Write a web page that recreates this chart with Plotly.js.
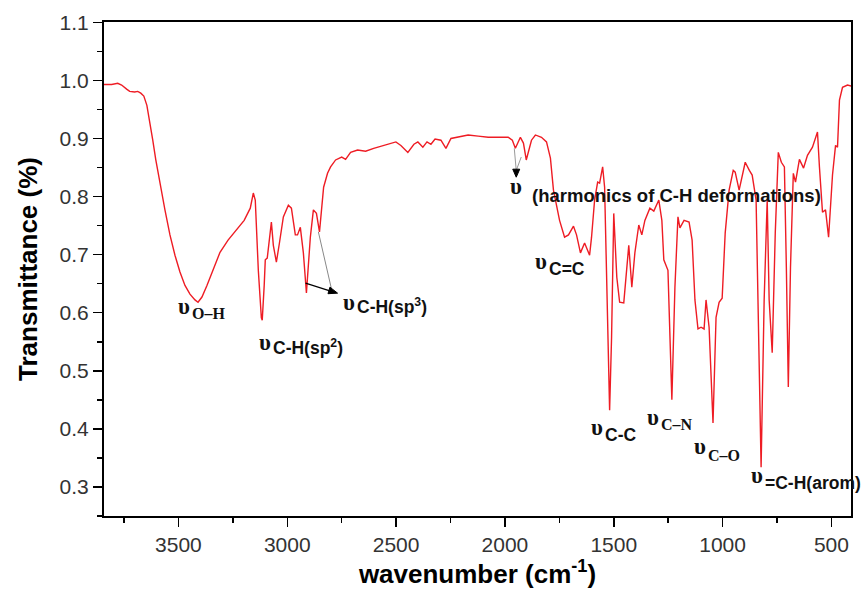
<!DOCTYPE html>
<html>
<head>
<meta charset="utf-8">
<script src="https://cdn.plot.ly/plotly-3.0.1.min.js"></script>
<style>html,body{margin:0;padding:0;background:#fff;}#chart{width:864px;height:596px;}</style>
</head>
<body>
<div id="chart"></div>
<script>
// FTIR spectrum
const wavenumber = [
3842,3807,3779,3761,3738,3724,3701,3687,3673,3659,3645,3632,3618,3604,3585,3562,3539,3516,3493,3470,
3447,3424,3410,3392,3369,3341,3309,3272,3235,3198,3170,3156,3147,3133,3119,3115,3106,3101,3092,3073,
3064,3050,3036,3018,2995,2981,2963,2953,2940,2926,2912,2894,2880,2866,2852,2833,2815,2801,2778,2750,
2732,2709,2677,2640,2603,2561,2538,2501,2478,2446,2418,2400,2377,2358,2340,2321,2294,2271,2248,2215,
2169,2123,2077,2031,1985,1966,1952,1929,1915,1902,1878,1860,1832,1809,1791,1777,1749,1726,1708,1685,
1671,1653,1634,1611,1602,1588,1574,1565,1551,1542,1533,1519,1510,1500,1486,1473,1454,1431,1417,1403,
1385,1371,1357,1334,1316,1293,1279,1270,1251,1233,1219,1205,1196,1177,1154,1140,1127,1113,1099,1085,
1076,1062,1044,1030,1016,1002,988,970,951,942,924,896,877,864,846,823,809,795,786,772,
758,744,730,716,707,698,688,675,665,647,628,610,587,564,555,541,527,513,495,481,
472,463,449,426,405];
const transmittance = [
0.993,0.993,0.995,0.992,0.985,0.981,0.980,0.981,0.978,0.973,0.957,0.931,0.897,0.863,0.823,0.777,0.734,0.699,0.670,0.647,
0.632,0.622,0.618,0.627,0.647,0.673,0.704,0.725,0.742,0.759,0.780,0.806,0.794,0.673,0.591,0.587,0.647,0.691,0.694,0.756,
0.716,0.687,0.720,0.765,0.785,0.780,0.734,0.734,0.747,0.703,0.634,0.730,0.777,0.771,0.739,0.816,0.840,0.851,0.863,0.868,
0.864,0.876,0.880,0.878,0.883,0.888,0.890,0.894,0.888,0.876,0.890,0.894,0.885,0.894,0.890,0.899,0.897,0.883,0.900,0.902,
0.906,0.904,0.902,0.902,0.902,0.897,0.883,0.902,0.892,0.863,0.897,0.906,0.902,0.894,0.866,0.811,0.759,0.730,0.734,0.749,
0.734,0.703,0.720,0.699,0.730,0.794,0.825,0.823,0.851,0.816,0.673,0.432,0.558,0.771,0.661,0.618,0.617,0.716,0.644,0.703,
0.751,0.734,0.759,0.780,0.775,0.794,0.759,0.691,0.673,0.450,0.644,0.765,0.746,0.759,0.756,0.725,0.622,0.572,0.575,0.572,
0.622,0.575,0.410,0.592,0.618,0.625,0.737,0.811,0.845,0.842,0.811,0.859,0.845,0.837,0.794,0.334,0.622,0.794,0.622,0.531,
0.737,0.876,0.859,0.851,0.678,0.472,0.678,0.840,0.825,0.864,0.849,0.871,0.885,0.911,0.851,0.773,0.777,0.730,0.837,0.888,
0.885,0.966,0.988,0.992,0.990];

// Band labels: subscript text, font kind
const bandLabels = ['O–H', 'C-H(sp<sup>2</sup>)', 'C-H(sp<sup>3</sup>)', '(harmonics of C-H deformations)',
  'C=C', 'C-C', 'C–N', 'C–O', '=C-H(arom)'];
const bandSerif = [true, false, false, false, false, false, true, true, false];
// anchor of each upsilon and of its subscript (wavenumber, transmittance)
const upsY = [0.610, 0.549, 0.618, 0.818, 0.689, 0.403, 0.420, 0.369, 0.319];
const subX = [3442, 3069, 2686, 1878, 1800, 1546, 1288, 1071, 808];
const subY = [0.598, 0.541, 0.611, 0.802, 0.675, 0.389, 0.407, 0.355, 0.307];
const upsGapX = [0, 0, 0, 40, 0, 0, 0, 0, 0];

const xTickVals = [3500, 3000, 2500, 2000, 1500, 1000, 500];

const serif = 'Liberation Serif, Times New Roman, serif';
const sans = 'Liberation Sans, Arial, sans-serif';

const annotations = [];
for (let i = 0; i < bandLabels.length; i++) {
  annotations.push({x: subX[i] + upsGapX[i], y: upsY[i], xref: 'x', yref: 'y', text: '<b>υ</b>', showarrow: false,
    xanchor: 'right', yanchor: 'middle', borderpad: 0, font: {family: serif, size: 23, color: '#111'}});
  const isHarm = i === 3;
  annotations.push({x: subX[i], y: subY[i], xref: 'x', yref: 'y', text: '<b>' + bandLabels[i] + '</b>', showarrow: false,
    xanchor: 'left', yanchor: 'middle', borderpad: 0,
    font: {family: bandSerif[i] ? serif : sans, size: bandSerif[i] ? 16 : (isHarm ? 18.5 : 17.5), color: '#111'}});
}

const shapes = [
  // grey guide lines
  {type: 'line', xref: 'x', yref: 'y', x0: 2857, y0: 0.739, x1: 2797, y1: 0.641, line: {color: '#888', width: 1}},
  {type: 'line', xref: 'x', yref: 'y', x0: 1957, y0: 0.883, x1: 1948, y1: 0.845, line: {color: '#999', width: 1}},
  {type: 'line', xref: 'x', yref: 'y', x0: 1925, y0: 0.868, x1: 1948, y1: 0.845, line: {color: '#999', width: 1}},
  // black arrow to C-H(sp3) label
  {type: 'line', xref: 'x', yref: 'y', x0: 2916, y0: 0.651, x1: 2808, y1: 0.638, line: {color: '#000', width: 1.2}},
  {type: 'path', xref: 'x', yref: 'y', path: 'M 2769 0.6337 L 2813 0.6327 L 2804 0.6440 Z',
    fillcolor: '#000', line: {color: '#000', width: 1}},
  // black arrowhead for harmonics
  {type: 'path', xref: 'x', yref: 'y', path: 'M 1948 0.8333 L 1964 0.8471 L 1932 0.8471 Z',
    fillcolor: '#000', line: {color: '#000', width: 1}}
];

const trace = {x: wavenumber, y: transmittance, type: 'scatter', mode: 'lines',
  line: {color: 'rgb(238,28,36)', width: 1.4}, hoverinfo: 'x+y'};

const layout = {
  width: 864, height: 596,
  margin: {l: 104, r: 13, t: 22, b: 80},
  paper_bgcolor: '#fff', plot_bgcolor: '#fff',
  showlegend: false,
  xaxis: {
    range: [3842, 410], showgrid: false, zeroline: false,
    showline: true, linecolor: '#000', linewidth: 2, mirror: true,
    ticks: 'outside', ticklen: 9, tickwidth: 1.5, tickcolor: '#000',
    tickvals: xTickVals, ticktext: xTickVals.map(String),
    minor: {ticks: 'outside', ticklen: 5, tickwidth: 1.5, tickcolor: '#000', dtick: 250, tick0: 0, showgrid: false},
    tickfont: {family: sans, size: 21, color: '#333'},
    title: {text: '<b>wavenumber (cm<sup>-1</sup>)</b>', font: {family: sans, size: 26, color: '#000'}, standoff: 8},
    automargin: false
  },
  yaxis: {
    range: [0.25, 1.1005], showgrid: false, zeroline: false,
    showline: true, linecolor: '#000', linewidth: 2, mirror: true,
    ticks: 'outside', ticklen: 9, tickwidth: 1.5, tickcolor: '#000',
    dtick: 0.1, tick0: 0, tickformat: '.1f',
    minor: {ticks: 'outside', ticklen: 5, tickwidth: 1.5, tickcolor: '#000', dtick: 0.05, tick0: 0, showgrid: false},
    tickfont: {family: sans, size: 21, color: '#333'},
    title: {text: '<b>Transmittance (%)</b>', font: {family: sans, size: 26, color: '#000'}, standoff: 14},
    automargin: false
  },
  annotations: annotations,
  shapes: shapes
};

Plotly.newPlot('chart', [trace], layout, {displayModeBar: false, staticPlot: true});
</script>
</body>
</html>
